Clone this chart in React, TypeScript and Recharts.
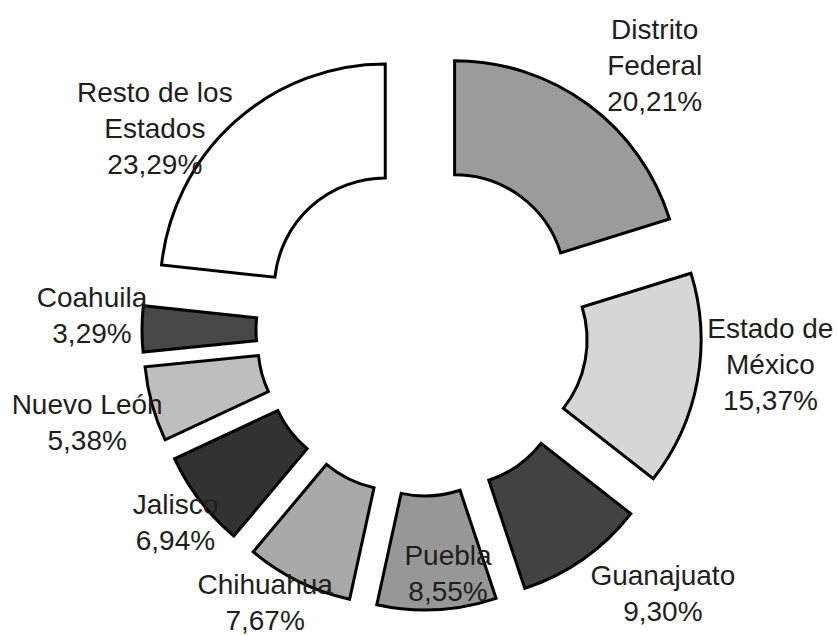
import { PieChart, Pie, Cell } from "recharts"

// Population share by state (%)
const states = [
  "Distrito\nFederal",
  "Estado de\nMéxico",
  "Guanajuato",
  "Puebla",
  "Chihuahua",
  "Jalisco",
  "Nuevo León",
  "Coahuila",
  "Resto de los\nEstados",
]
const shares = [20.21, 15.37, 9.3, 8.55, 7.67, 6.94, 5.38, 3.29, 23.29]
const fills = ["#9b9b9b", "#d6d6d6", "#424242", "#979797", "#a9a9a9", "#323232", "#bebebe", "#474747", "#ffffff"]

// layout
const CX = 422
const CY = 330
const INNER = 111
const OUTER = 225
const EXPLODE = 55
const LABEL_R = 340
const LINE_H = 36
// nudge labels off the mid-angle ray, like the original
const labelNudge = [
  [31, 9],
  [14, -28],
  [45, -15],
  [8, -97],
  [-7, -33],
  [23, -15],
  [-7, 2],
  [10, -14],
  [-40, 51],
]

const data = states.map((name, i) => ({ name, value: shares[i] }))
const total = shares.reduce((a, b) => a + b, 0)

const midAngles = shares.map((v, i) => {
  const before = shares.slice(0, i).reduce((a, b) => a + b, 0)
  return 90 - ((before + v / 2) / total) * 360
})

const pct = (v: number) => v.toFixed(2).replace(".", ",") + "%"

const renderLabel = (p: any) => {
  const i = p.index
  const rad = (midAngles[i] * Math.PI) / 180
  const x = CX + LABEL_R * Math.cos(rad) + labelNudge[i][0]
  const y = CY - LABEL_R * Math.sin(rad) + labelNudge[i][1]
  const lines = [...states[i].split("\n"), pct(shares[i])]
  const top = y - ((lines.length - 1) * LINE_H) / 2
  return (
    <text
      key={`lbl-${i}`}
      x={x}
      y={top}
      textAnchor="middle"
      fontFamily="'Liberation Sans', Arial, sans-serif"
      fontSize={28}
      fill="#1e1e1e"
    >
      {lines.map((t, k) => (
        <tspan key={k} x={x} y={top + k * LINE_H + 10}>
          {t}
        </tspan>
      ))}
    </text>
  )
}

export default function App() {
  return (
    <div style={{ position: "absolute", left: 0, top: 0, background: "#fff" }}>
      <PieChart width={839} height={635} margin={{ top: 0, right: 0, bottom: 0, left: 0 }}>
        {data.map((_, i) => {
          const rad = (midAngles[i] * Math.PI) / 180
          return (
            <Pie
              key={`slice-${i}`}
              data={data}
              dataKey="value"
              nameKey="name"
              cx={CX + EXPLODE * Math.cos(rad)}
              cy={CY - EXPLODE * Math.sin(rad)}
              innerRadius={INNER}
              outerRadius={OUTER}
              startAngle={90}
              endAngle={-270}
              paddingAngle={0}
              label={false}
              labelLine={false}
              isAnimationActive={false}
            >
              {data.map((__, k) => (
                <Cell
                  key={k}
                  fill={k === i ? fills[k] : "none"}
                  stroke={k === i ? "#000" : "none"}
                  strokeWidth={3}
                />
              ))}
            </Pie>
          )
        })}
        {/* labels on top of every slice */}
        <Pie
          data={data}
          dataKey="value"
          nameKey="name"
          cx={CX}
          cy={CY}
          innerRadius={INNER}
          outerRadius={OUTER}
          startAngle={90}
          endAngle={-270}
          label={renderLabel}
          labelLine={false}
          isAnimationActive={false}
        >
          {data.map((_, k) => (
            <Cell key={k} fill="none" stroke="none" />
          ))}
        </Pie>
      </PieChart>
    </div>
  )
}
